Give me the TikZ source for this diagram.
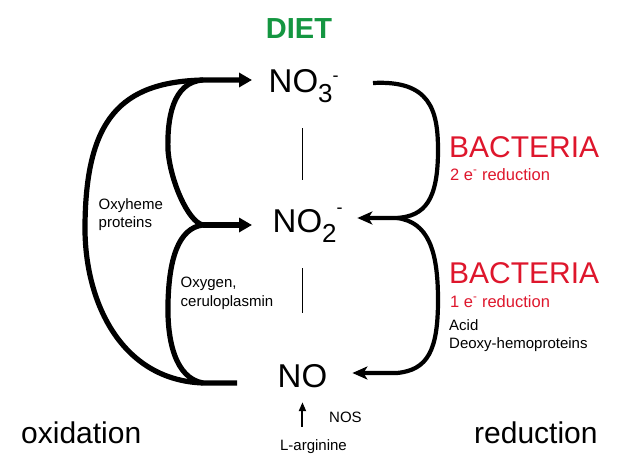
\documentclass[tikz,border=0pt]{standalone}
\usepackage{fontspec}
\setmainfont{Liberation Sans}
\usetikzlibrary{arrows.meta}
\definecolor{dietgreen}{RGB}{20,150,65}
\definecolor{bactred}{RGB}{222,22,44}
\newcommand{\chemion}[3]{#1\raisebox{-10pt}{\fontsize{26}{26}\selectfont #2}\raisebox{#3}{\fontsize{18}{18}\selectfont -}}
\tikzset{
  chem/.style={inner sep=0pt, anchor=base west, text height=24pt, text depth=10pt, font=\fontsize{33}{36}\selectfont},
  note/.style={inner sep=0pt, align=left, anchor=north west, font=\fontsize{15}{18.5}\selectfont},
  bigword/.style={inner sep=0pt, anchor=base west, font=\fontsize{30}{34}\selectfont},
  small/.style={inner sep=0pt, anchor=base west, font=\fontsize{16.5}{20}\selectfont},
  oxline/.style={line width=5.2pt, line join=round, -{Triangle[length=13pt,width=14pt]}},
  redline/.style={line width=4.2pt, line join=round, -{Stealth[length=15pt,width=13pt,inset=4pt]}},
  bar/.style={line width=1.7pt}
}

\begin{document}
\begin{tikzpicture}[x=1pt,y=-1pt]
\useasboundingbox (0,0) rectangle (618,463);

\node[inner sep=0pt, anchor=base, text=dietgreen, font=\bfseries\fontsize{29}{32}\selectfont] (diet) at (299,38) {DIET};
\node[chem] (no3) at (268.5,92) {\chemion{NO}{3}{11pt}};
\node[chem] (no2) at (272.5,232) {\chemion{NO}{2}{19pt}};
\node[chem] (no) at (277.5,387) {NO};

\node[note] (oxyheme) at (98.5,198) {Oxyheme\\proteins};
\node[note] (oxygen) at (180.5,277) {Oxygen,\\ceruloplasmin};
\node[bigword, text=bactred] (bactup) at (449,157) {BACTERIA};
\node[small, text=bactred] (twoe) at (450,180) {2 e\textsuperscript{-} reduction};
\node[bigword, text=bactred] (bactlow) at (449,283) {BACTERIA};
\node[small, text=bactred] (onee) at (450,307) {1 e\textsuperscript{-} reduction};
\node[note] (acid) at (449,319) {Acid\\Deoxy-hemoproteins};
\node[bigword] (oxid) at (21,443) {oxidation};
\node[bigword] (reduc) at (474,443) {reduction};
\node[inner sep=0pt, anchor=base west, font=\fontsize{15}{18}\selectfont] (nos) at (329,422) {NOS};
\node[inner sep=0pt, anchor=base, font=\fontsize{15}{18}\selectfont] (larg) at (313.5,450) {L-arginine};

\coordinate (ltop) at (203,80);
\coordinate (lmid) at (203,225);
\coordinate (lbot) at (203,383);
\coordinate (rtop) at (373,83);
\coordinate (rmid) at (397,218);
\coordinate (rlow) at (397,373);

\draw[bar, shorten <=26pt, shorten >=28pt] (no3.south -| no) -- (no2.north -| no);
\draw[bar, shorten <=26pt, shorten >=50pt] (no2.south -| no) -- (no.north);
\draw[line width=2pt, -{Triangle[length=9pt,width=7pt]}, shorten <=12pt, shorten >=5pt] (larg.north -| no) -- (no.south);

\draw[oxline, shorten <=40.5pt, shorten >=16.5pt] (lbot -| no.west) -- (lbot) .. controls (120,380) and (84,300) .. (85,225) .. controls (86,120) and (120,82) .. (ltop) -- (ltop -| no3.west);
\draw[line width=5.2pt] (lmid) .. controls (188,222) and (170,180) .. (168,150) .. controls (167,120) and (172,82) .. (ltop);
\draw[line width=5.2pt] (lbot) .. controls (175,378) and (167,340) .. (168,303) .. controls (169,260) and (178,228) .. (lmid);
\draw[oxline, shorten >=20.5pt] (lmid) -- (lmid -| no2.west);

\draw[redline, shorten >=14.5pt] (rtop) .. controls (430,80) and (438,110) .. (438,150) .. controls (438,200) and (425,216) .. (rmid) -- (rmid -| no2.east);
\draw[redline, shorten >=25pt] (rmid) .. controls (428,222) and (438,250) .. (438,300) .. controls (438,350) and (428,370) .. (rlow) -- (rlow -| no.east);
\end{tikzpicture}
\end{document}
